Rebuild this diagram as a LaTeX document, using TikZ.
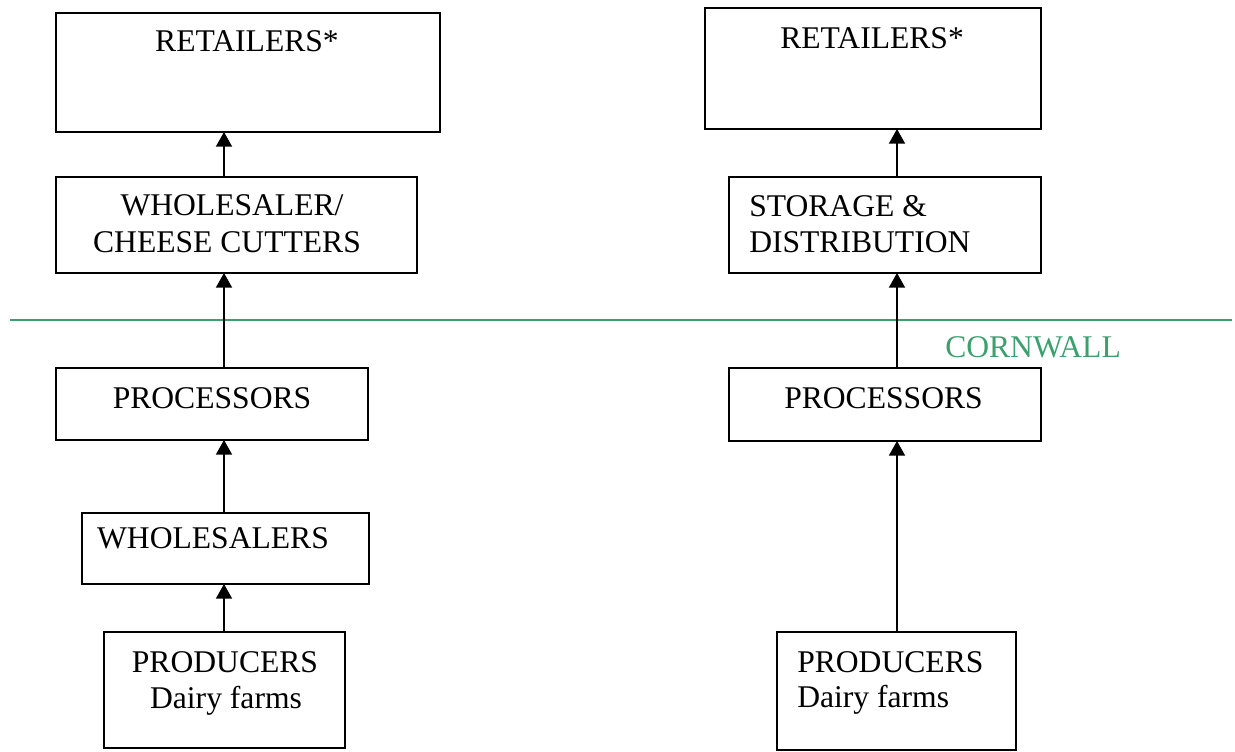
\documentclass[tikz,border=0pt]{standalone}
\usepackage{fontspec}
\setmainfont{Liberation Serif}
\usetikzlibrary{arrows.meta,fit}
\definecolor{cornwallgreen}{RGB}{60,160,110}
\begin{document}
\begin{tikzpicture}[x=0.75pt,y=-0.75pt,
  stage/.style={draw=black, line width=1.3pt, inner sep=0pt, outer sep=0pt},
  lbl/.style={font=\fontsize{23.7}{26.5}\selectfont, inner sep=0pt, anchor=base},
  lblw/.style={lbl, anchor=base west},
  flow/.style={line width=1.4pt, -{Triangle[width=12pt,length=11pt]}},
  border/.style={draw=cornwallgreen, line width=2pt}]
\useasboundingbox (0,0) rectangle (1235,752);

% left chain
\node[stage, fit={(56,13) (440,132)}]   (retL)  {};
\node[stage, fit={(56,177) (417,273)}]  (whcL)  {};
\node[stage, fit={(56,368) (368,440)}]  (procL) {};
\node[stage, fit={(82,513) (369,584)}]  (whsL)  {};
\node[stage, fit={(104,632) (345,748)}] (prodL) {};

\node[lbl] (tRetL)   at (247,52)  {RETAILERS*};
\node[lbl] (tWhcL1)  at (232,216) {WHOLESALER/};
\node[lbl] (tWhcL2)  at (227,253) {CHEESE CUTTERS};
\node[lbl] (tProcL)  at (212,408) {PROCESSORS};
\node[lbl] (tWhsL)   at (213,548) {WHOLESALERS};
\node[lbl] (tProdL1) at (225,672) {PRODUCERS};
\node[lbl] (tProdL2) at (226,708) {Dairy farms};

% right chain
\node[stage, fit={(705,8) (1041,129)}]   (retR)  {};
\node[stage, fit={(729,177) (1041,273)}] (stR)   {};
\node[stage, fit={(729,368) (1041,441)}] (procR) {};
\node[stage, fit={(777,632) (1016,750)}] (prodR) {};

\node[lblw] (tRetR)   at (780,49)  {RETAILERS*};
\node[lblw] (tStR1)   at (749,217) {STORAGE \&};
\node[lblw] (tStR2)   at (749,253) {DISTRIBUTION};
\node[lblw] (tProcR)  at (784,408) {PROCESSORS};
\node[lblw] (tProdR1) at (797,672) {PRODUCERS};
\node[lblw] (tProdR2) at (797,707) {Dairy farms};

% county border
\coordinate (bW) at (10,320);
\coordinate (bE) at (1232,320);
\draw[border] (bW) -- (bE);
\node[lblw, text=cornwallgreen] (tCorn) at (945,358) {CORNWALL};

% flows
\coordinate (axL) at (224,0);
\coordinate (axR) at (897,0);
\draw[flow] (whcL.north -| axL)  -- (retL.south -| axL);
\draw[flow] (procL.north -| axL) -- (whcL.south -| axL);
\draw[flow] (whsL.north -| axL)  -- (procL.south -| axL);
\draw[flow] (prodL.north -| axL) -- (whsL.south -| axL);
\draw[flow] (stR.north -| axR)   -- (retR.south -| axR);
\draw[flow] (procR.north -| axR) -- (stR.south -| axR);
\draw[flow] (prodR.north -| axR) -- (procR.south -| axR);
\end{tikzpicture}
\end{document}
